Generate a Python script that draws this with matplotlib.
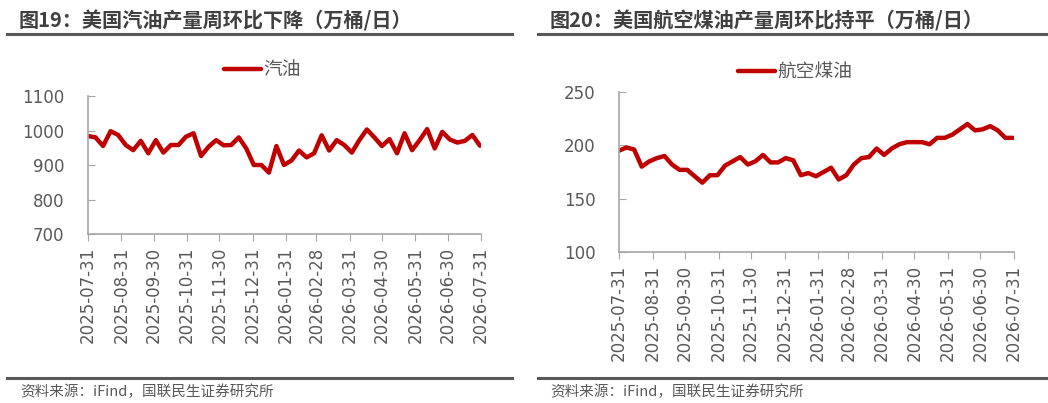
import matplotlib
matplotlib.use("Agg")
import matplotlib.pyplot as plt
import matplotlib.dates as mdates
from matplotlib.lines import Line2D
import pandas as pd

plt.rcParams["font.family"] = ["Noto Sans CJK SC", "DejaVu Sans"]
plt.rcParams["axes.unicode_minus"] = False

# weekly data, 2025-07-31 .. 2026-07-30
dates = pd.date_range("2025-07-31", periods=53, freq="7D")
gasoline = [984, 980, 955, 998, 987, 958, 943, 970, 934, 972, 936, 958, 958,
            982, 992, 926, 953, 972, 957, 958, 980, 948, 900, 900, 878, 955,
            900, 913, 942, 922, 934, 986, 942, 972, 958, 936, 972, 1003, 980,
            955, 975, 934, 992, 943, 972, 1004, 948, 996, 974, 965, 970, 987, 956]
jet_fuel = [195, 198, 196, 180, 185, 188, 190, 182, 177, 177, 171, 165, 172,
            172, 181, 185, 189, 182, 185, 191, 184, 184, 188, 186, 172, 174,
            171, 175, 179, 168, 172, 182, 188, 189, 197, 191, 197, 201, 203,
            203, 203, 201, 207, 207, 210, 215, 220, 214, 215, 218, 214, 207, 207]

titles = ["图19：美国汽油产量周环比下降（万桶/日）",
          "图20：美国航空煤油产量周环比持平（万桶/日）"]
labels = ["汽油", "航空煤油"]
source = "资料来源：iFind，国联民生证券研究所"

W, H = 1048, 403
RED = "#C00000"
GRAY_TXT = "#595959"
AXIS = "#A6A6A6"

fig = plt.figure(figsize=(W / 100, H / 100), dpi=100)
fig.patch.set_facecolor("white")

tick_dates = pd.date_range("2025-07-31", "2026-07-31", freq="ME")


def px_axes(x0, y0, x1, y1):
    return fig.add_axes([x0 / W, 1 - y1 / H, (x1 - x0) / W, (y1 - y0) / H])


def style(ax, ylim, yticks):
    ax.set_xlim(pd.Timestamp("2025-07-31"), pd.Timestamp("2026-07-31"))
    ax.set_ylim(*ylim)
    ax.set_yticks(yticks)
    ax.set_xticks(tick_dates)
    ax.xaxis.set_major_formatter(mdates.DateFormatter("%Y-%m-%d"))
    for s in ["top", "right"]:
        ax.spines[s].set_visible(False)
    for s in ["left", "bottom"]:
        ax.spines[s].set_color(AXIS)
        ax.spines[s].set_linewidth(1.2)
    ax.tick_params(axis="y", direction="in", length=5, color=AXIS,
                   labelsize=12, labelcolor=GRAY_TXT, pad=17)
    ax.tick_params(axis="x", direction="out", length=5, color=AXIS,
                   labelsize=12, labelcolor=GRAY_TXT, rotation=90, pad=4)
    for lab in ax.get_yticklabels() + ax.get_xticklabels():
        lab.set_family(["DejaVu Sans"])


panels = [
    dict(data=gasoline, box=(88, 96, 481, 234), ylim=(700, 1100),
         yticks=[700, 800, 900, 1000, 1100], leg=(262, 70),
         title_x=19, line=(7, 512), src_x=20),
    dict(data=jet_fuel, box=(619, 92, 1014, 252), ylim=(100, 250),
         yticks=[100, 150, 200, 250], leg=(795, 72),
         title_x=550, line=(538, 1046), src_x=550),
]

for p, title, lab in zip(panels, titles, labels):
    ax = px_axes(*p["box"])
    ax.plot(dates, p["data"], color=RED, lw=3.2, label=lab,
            solid_capstyle="round", solid_joinstyle="round")
    style(ax, p["ylim"], p["yticks"])
    lx, ly = p["leg"]
    ax.legend(loc="center", bbox_to_anchor=(lx / W, 1 - ly / H),
              bbox_transform=fig.transFigure, frameon=False, fontsize=13.5,
              handlelength=2.0, handletextpad=0.1, labelcolor=GRAY_TXT)

    fig.text(p["title_x"] / W, 1 - 21 / H, title, fontsize=14.5,
             fontweight="bold", color="#404040", va="center", ha="left")
    x0, x1 = p["line"]
    fig.add_artist(Line2D([x0 / W, x1 / W], [1 - 34 / H, 1 - 34 / H],
                          color="#595959", lw=2.2))
    fig.add_artist(Line2D([x0 / W, x1 / W], [1 - 378 / H, 1 - 378 / H],
                          color="#595959", lw=2.2))
    fig.text(p["src_x"] / W, 1 - 392 / H, source, fontsize=10.5,
             color=GRAY_TXT, va="center", ha="left")

fig.savefig("out.png", dpi=100, facecolor="white")
